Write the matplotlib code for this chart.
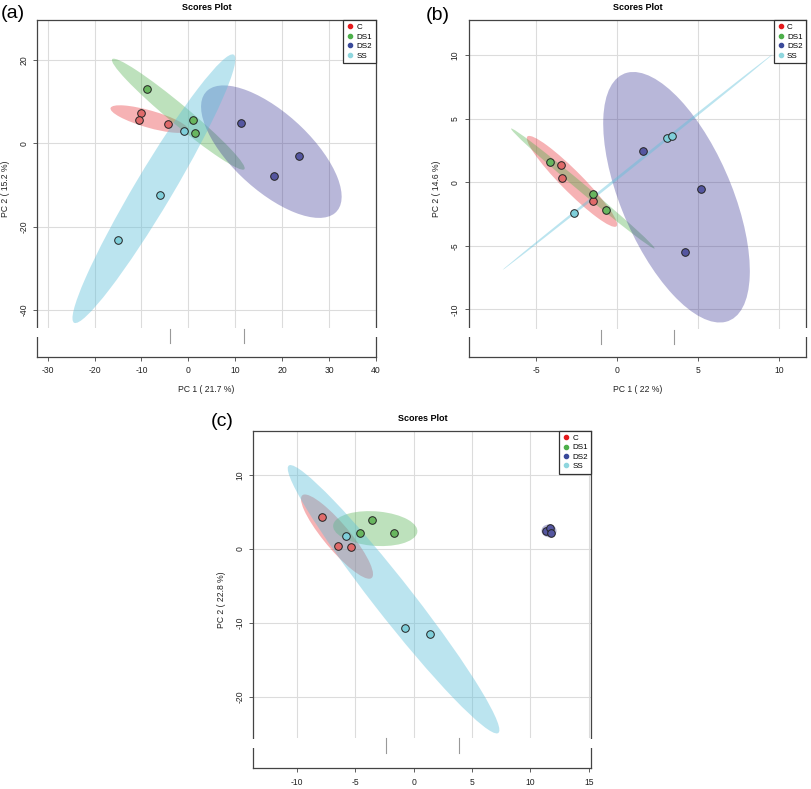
import numpy as np
import matplotlib.pyplot as plt
from matplotlib.patches import Ellipse, Rectangle
from matplotlib.lines import Line2D

plt.rcParams['font.family'] = ['Liberation Sans', 'DejaVu Sans']
plt.rcParams['axes.unicode_minus'] = False

groups = ['C', 'DS1', 'DS2', 'SS']

# scores per group (C, DS1, DS2, SS)
a_x = [[-10.0, -10.5, -4.4], [-8.8, 0.9, 1.5], [11.3, 23.5, 18.3], [-1.0, -6.0, -15.0]]
a_y = [[7.3, 5.7, 4.6], [13.1, 5.55, 2.5], [5.0, -3.0, -7.9], [3.06, -12.5, -23.2]]

b_x = [[-3.50, -3.41, -1.48], [-4.16, -1.52, -0.69], [1.61, 5.20, 4.19], [-2.67, 3.10, 3.36]]
b_y = [[1.39, 0.34, -1.50], [1.63, -0.94, -2.15], [2.49, -0.52, -5.49], [-2.41, 3.52, 3.67]]

c_x = [[-7.86, -6.51, -5.34], [-3.54, -4.63, -1.71], [11.3, 11.7, 11.8], [-5.83, -0.71, 1.37]]
c_y = [[4.33, 0.33, 0.28], [3.84, 2.17, 2.17], [2.35, 2.8, 2.1], [1.72, -10.65, -11.5]]

a_xlabel = 'PC 1 ( 21.7 %)'
a_ylabel = 'PC 2 ( 15.2 %)'
b_xlabel = 'PC 1 ( 22 %)'
b_ylabel = 'PC 2 ( 14.6 %)'
c_ylabel = 'PC 2 ( 22.8 %)'

point_colors = ['#E06A6A', '#68B65F', '#5556A0', '#7FCFDA']
legend_colors = ['#E41A1C', '#4DAF4A', '#3A4A9A', '#8FD6DE']
ellipse_colors = ['#E8353A', '#4DAF4A', '#3C3896', '#5EC0DA']
ellipse_alpha = [0.38, 0.37, 0.36, 0.42]

# 95% ellipse radius (chi-square, 2 df)
R95 = np.sqrt(-2 * np.log(0.05))


def draw_panel(ax, xs, ys, xlim, ylim, xticks, yticks, band_top, marks, mark_y, xlabel, ylabel):
    ax.set_xlim(xlim)
    ax.set_ylim(ylim)
    ax.set_xticks(xticks)
    ax.set_yticks(yticks)
    ax.grid(True, color='#DCDCDC', lw=0.8)
    ax.set_axisbelow(True)

    # blank strip at the bottom of the plot area
    ax.axhspan(ylim[0], band_top, color='white', lw=0, zorder=0.8)
    for mx in marks:
        ax.plot([mx, mx], mark_y, color='#999999', lw=0.8, zorder=0.9)
    for sx in (-0.02, 0.99):
        ax.add_patch(Rectangle((sx, 0.058), 0.03, 0.028, transform=ax.transAxes,
                               fc='white', ec='none', clip_on=False, zorder=5))

    for k in range(len(groups)):
        x = np.array(xs[k])
        y = np.array(ys[k])
        vals, vecs = np.linalg.eigh(np.cov(x, y))
        vals = np.clip(vals, 1e-6, None)
        ang = np.degrees(np.arctan2(vecs[1, 1], vecs[0, 1]))
        ax.add_patch(Ellipse((x.mean(), y.mean()), 2 * R95 * np.sqrt(vals[1]),
                             2 * R95 * np.sqrt(vals[0]), angle=ang,
                             fc=ellipse_colors[k], alpha=ellipse_alpha[k], lw=0, zorder=1))
    for k in range(len(groups)):
        ax.scatter(xs[k], ys[k], s=30, c=point_colors[k], edgecolors='#222222',
                   linewidths=0.7, zorder=3)

    for sp in ax.spines.values():
        sp.set_color('#444444')
        sp.set_linewidth(0.9)
    ax.tick_params(length=3, width=0.6, color='#444444', labelsize=6.2, pad=3.5,
                   labelcolor='#222222')
    ax.tick_params(axis='x', pad=4)
    ax.tick_params(axis='y', labelrotation=90)
    for t in ax.get_yticklabels():
        t.set_va('center')

    ax.set_title('Scores Plot', fontsize=6.5, fontweight='bold', pad=7)
    if xlabel:
        ax.set_xlabel(xlabel, fontsize=6.2, labelpad=7, color='#222222')
    ax.set_ylabel(ylabel, fontsize=6.2, labelpad=7, color='#222222')

    handles = [Line2D([], [], ls='', marker='o', ms=3, mfc=c, mec=c) for c in legend_colors]
    leg = ax.legend(handles, groups, loc='upper right', borderaxespad=0, fontsize=5.8,
                    frameon=True, fancybox=False, edgecolor='#333333', framealpha=1,
                    handlelength=0.8, handletextpad=0.4, labelspacing=0.22, borderpad=0.45)
    leg.get_frame().set_linewidth(0.9)


fig = plt.figure(figsize=(8.12, 7.89), dpi=100)
ax_a = fig.add_axes([0.0459, 0.5479, 0.4171, 0.4267])
ax_b = fig.add_axes([0.5772, 0.5479, 0.4158, 0.4267])
ax_c = fig.add_axes([0.3120, 0.0266, 0.4163, 0.4275])

draw_panel(ax_a, a_x, a_y, (-32.2, 40), (-51.3, 29.7), range(-30, 41, 10), [-40, -20, 0, 20],
           -44.4, [-3.86, 11.8], [-44.6, -48.0], a_xlabel, a_ylabel)
draw_panel(ax_b, b_x, b_y, (-9.18, 11.69), (-13.73, 12.78), [-5, 0, 5, 10], [-10, -5, 0, 5, 10],
           -11.55, [-0.98, 3.53], [-11.63, -12.73], b_xlabel, b_ylabel)
draw_panel(ax_c, c_x, c_y, (-13.74, 15.23), (-29.59, 15.94), [-10, -5, 0, 5, 10, 15], [-20, -10, 0, 10],
           -25.5, [-2.4, 3.86], [-25.6, -27.6], None, c_ylabel)

fig.text(13 / 812, 1 - 14 / 789, '(a)', fontsize=14, ha='center', va='center')
fig.text(438 / 812, 1 - 15 / 789, '(b)', fontsize=14, ha='center', va='center')
fig.text(222 / 812, 1 - 422 / 789, '(c)', fontsize=14, ha='center', va='center')

fig.savefig('out.png', dpi=100)
